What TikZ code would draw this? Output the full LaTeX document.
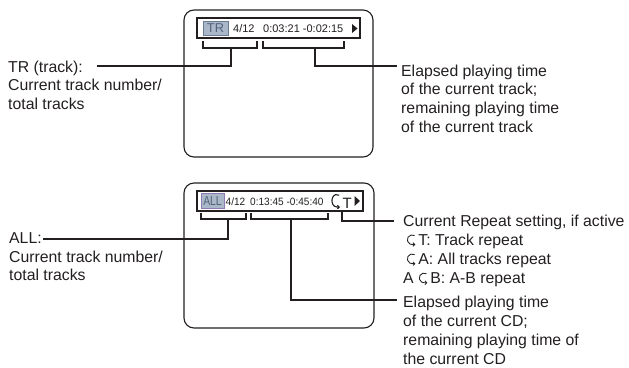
\documentclass[tikz,border=0pt]{standalone}
\usepackage{fontspec}
\setmainfont{Liberation Sans}
\newfontfamily\narrowfont[FakeStretch=0.8]{Liberation Sans}
\newfontfamily\condfont[FakeStretch=0.95]{Liberation Sans}
\usetikzlibrary{arrows.meta}
\definecolor{ink}{HTML}{231F20}
\definecolor{hlfill}{HTML}{A9B7C8}
\definecolor{hltext}{HTML}{52647C}
\definecolor{hlborder}{HTML}{6A7C94}
\definecolor{hlborderb}{HTML}{8E7AAE}
% repeat symbol: #1 x unit, #2 y unit, #3 line width
\newcommand{\repsym}[3]{\tikz[baseline=0pt,x=#1,y=#2]\draw[ink,line width=#3,-{Straight Barb[length=1.8pt,width=3.6pt]}] (6.3,8.5) arc[start angle=60,end angle=270,radius=4.2] -- ++(2.8,0);}
\begin{document}
\begin{tikzpicture}[x=1pt,y=-1pt,
  screen/.style={draw=ink,line width=1.1pt,rounded corners=10pt},
  bar/.style={draw=ink,line width=1.5pt,fill=white},
  hl/.style={fill=hlfill,line width=0.8pt},
  bracket/.style={draw=ink,line width=2.2pt},
  lead/.style={draw=ink,line width=1.8pt},
  lbl/.style={anchor=base west,inner sep=0pt,align=left,font=\fontsize{15.8}{18.7}\selectfont,text=ink},
  lblb/.style={lbl,font=\fontsize{15.8}{19.1}\selectfont},
  disp/.style={anchor=base west,inner sep=0pt,font=\fontsize{11}{13}\selectfont,text=ink}]
\useasboundingbox (0,0) rectangle (629,367);

% ---------------- top screen ----------------
\draw[screen] (184,10) rectangle (373,157);
\draw[bar] (197,18) rectangle (360,38);
\draw[hl,draw=hlborder] (203,21) rectangle (228,35);
\node[inner sep=0pt,font=\fontsize{12.8}{14}\selectfont,text=hltext] (tr) at (215.5,28.3) {TR};
\node[disp] (tnum) at (233,32) {4/12};
\node[disp] (ttime) at (263,32) {0:03:21 -0:02:15};
\fill[ink] (352,24) -- (352,33) -- (357.5,28.5) -- cycle;

% brackets top
\draw[bracket] (203,41) -- (203,48) -- (257,48) -- (257,41);
\draw[bracket] (263,41) -- (263,48) -- (344,48) -- (344,41);
\coordinate (tbl) at (231,48);
\coordinate (tbr) at (315,48);
\coordinate (tle) at (97,66);
\coordinate (tre) at (397,66);
\draw[lead,line join=miter] (tbl) -- (tbl |- tle) -- (tle);
\draw[lead,line join=miter] (tbr) -- (tbr |- tre) -- (tre);

% multi-line labels: anchor at baseline of the last line
\node[lbl] (tleft) at (8,109.4) {TR (track):\\Current track number/\\total tracks};
\node[lbl] (tright) at (401,132.1) {Elapsed playing time\\of the current track;\\remaining playing time\\of the current track};

% ---------------- bottom screen ----------------
\draw[screen] (184,183) rectangle (374,328);
\draw[bar] (197,191) rectangle (363,211);
\draw[hl,draw=hlborderb] (201,193.5) rectangle (224,208);
\node[inner sep=0pt,font=\narrowfont\fontsize{13}{14}\selectfont,text=hltext] (all) at (212.5,201) {ALL};
\node[disp,font=\condfont\fontsize{10.6}{13}\selectfont] (bnum) at (225.5,205.5) {4/12};
\node[disp,font=\condfont\fontsize{10.6}{13}\selectfont] (btime) at (250,205.5) {0:13:45 -0:45:40};
\node[anchor=base west,inner sep=0pt] (brep) at (330.5,208) {\repsym{1.15pt}{1.5pt}{1.1pt}};
\node[disp,font=\fontsize{15}{16}\selectfont] (bt) at (342.5,208) {T};
\fill[ink] (354.5,196) -- (354.5,206) -- (360,201) -- cycle;

% brackets bottom
\draw[bracket] (201,213) -- (201,219) -- (246,219) -- (246,213);
\draw[bracket] (251,213) -- (251,219) -- (328,219) -- (328,213);
\coordinate (bbl) at (228,219);
\coordinate (bbm) at (291,219);
\coordinate (bbr) at (342,211);
\coordinate (ble) at (43,239);
\coordinate (bme) at (397,300);
\coordinate (bre) at (394,221);
\draw[lead,line join=miter] (bbl) -- (bbl |- ble) -- (ble);
\draw[lead,line join=miter] (bbm) -- (bbm |- bme) -- (bme);
\draw[lead,line width=1.6pt,line join=miter] (bbr) -- (bbr |- bre) -- (bre);

\node[lbl] (bleft) at (9,280.9) {ALL:\\Current track number/\\total tracks};
\node[lblb] (brepl) at (403,283.5) {Current Repeat setting, if active\\
\hspace*{3pt}\repsym{1.15pt}{1.15pt}{0.85pt}\,T: Track repeat\\
\hspace*{3pt}\repsym{1.15pt}{1.15pt}{0.85pt}\,A: All tracks repeat\\
A \repsym{1.15pt}{1.15pt}{0.85pt}\,B: A-B repeat};
\node[lblb] (bright) at (403,364.3) {Elapsed playing time\\of the current CD;\\remaining playing time of\\the current CD};
\end{tikzpicture}
\end{document}
